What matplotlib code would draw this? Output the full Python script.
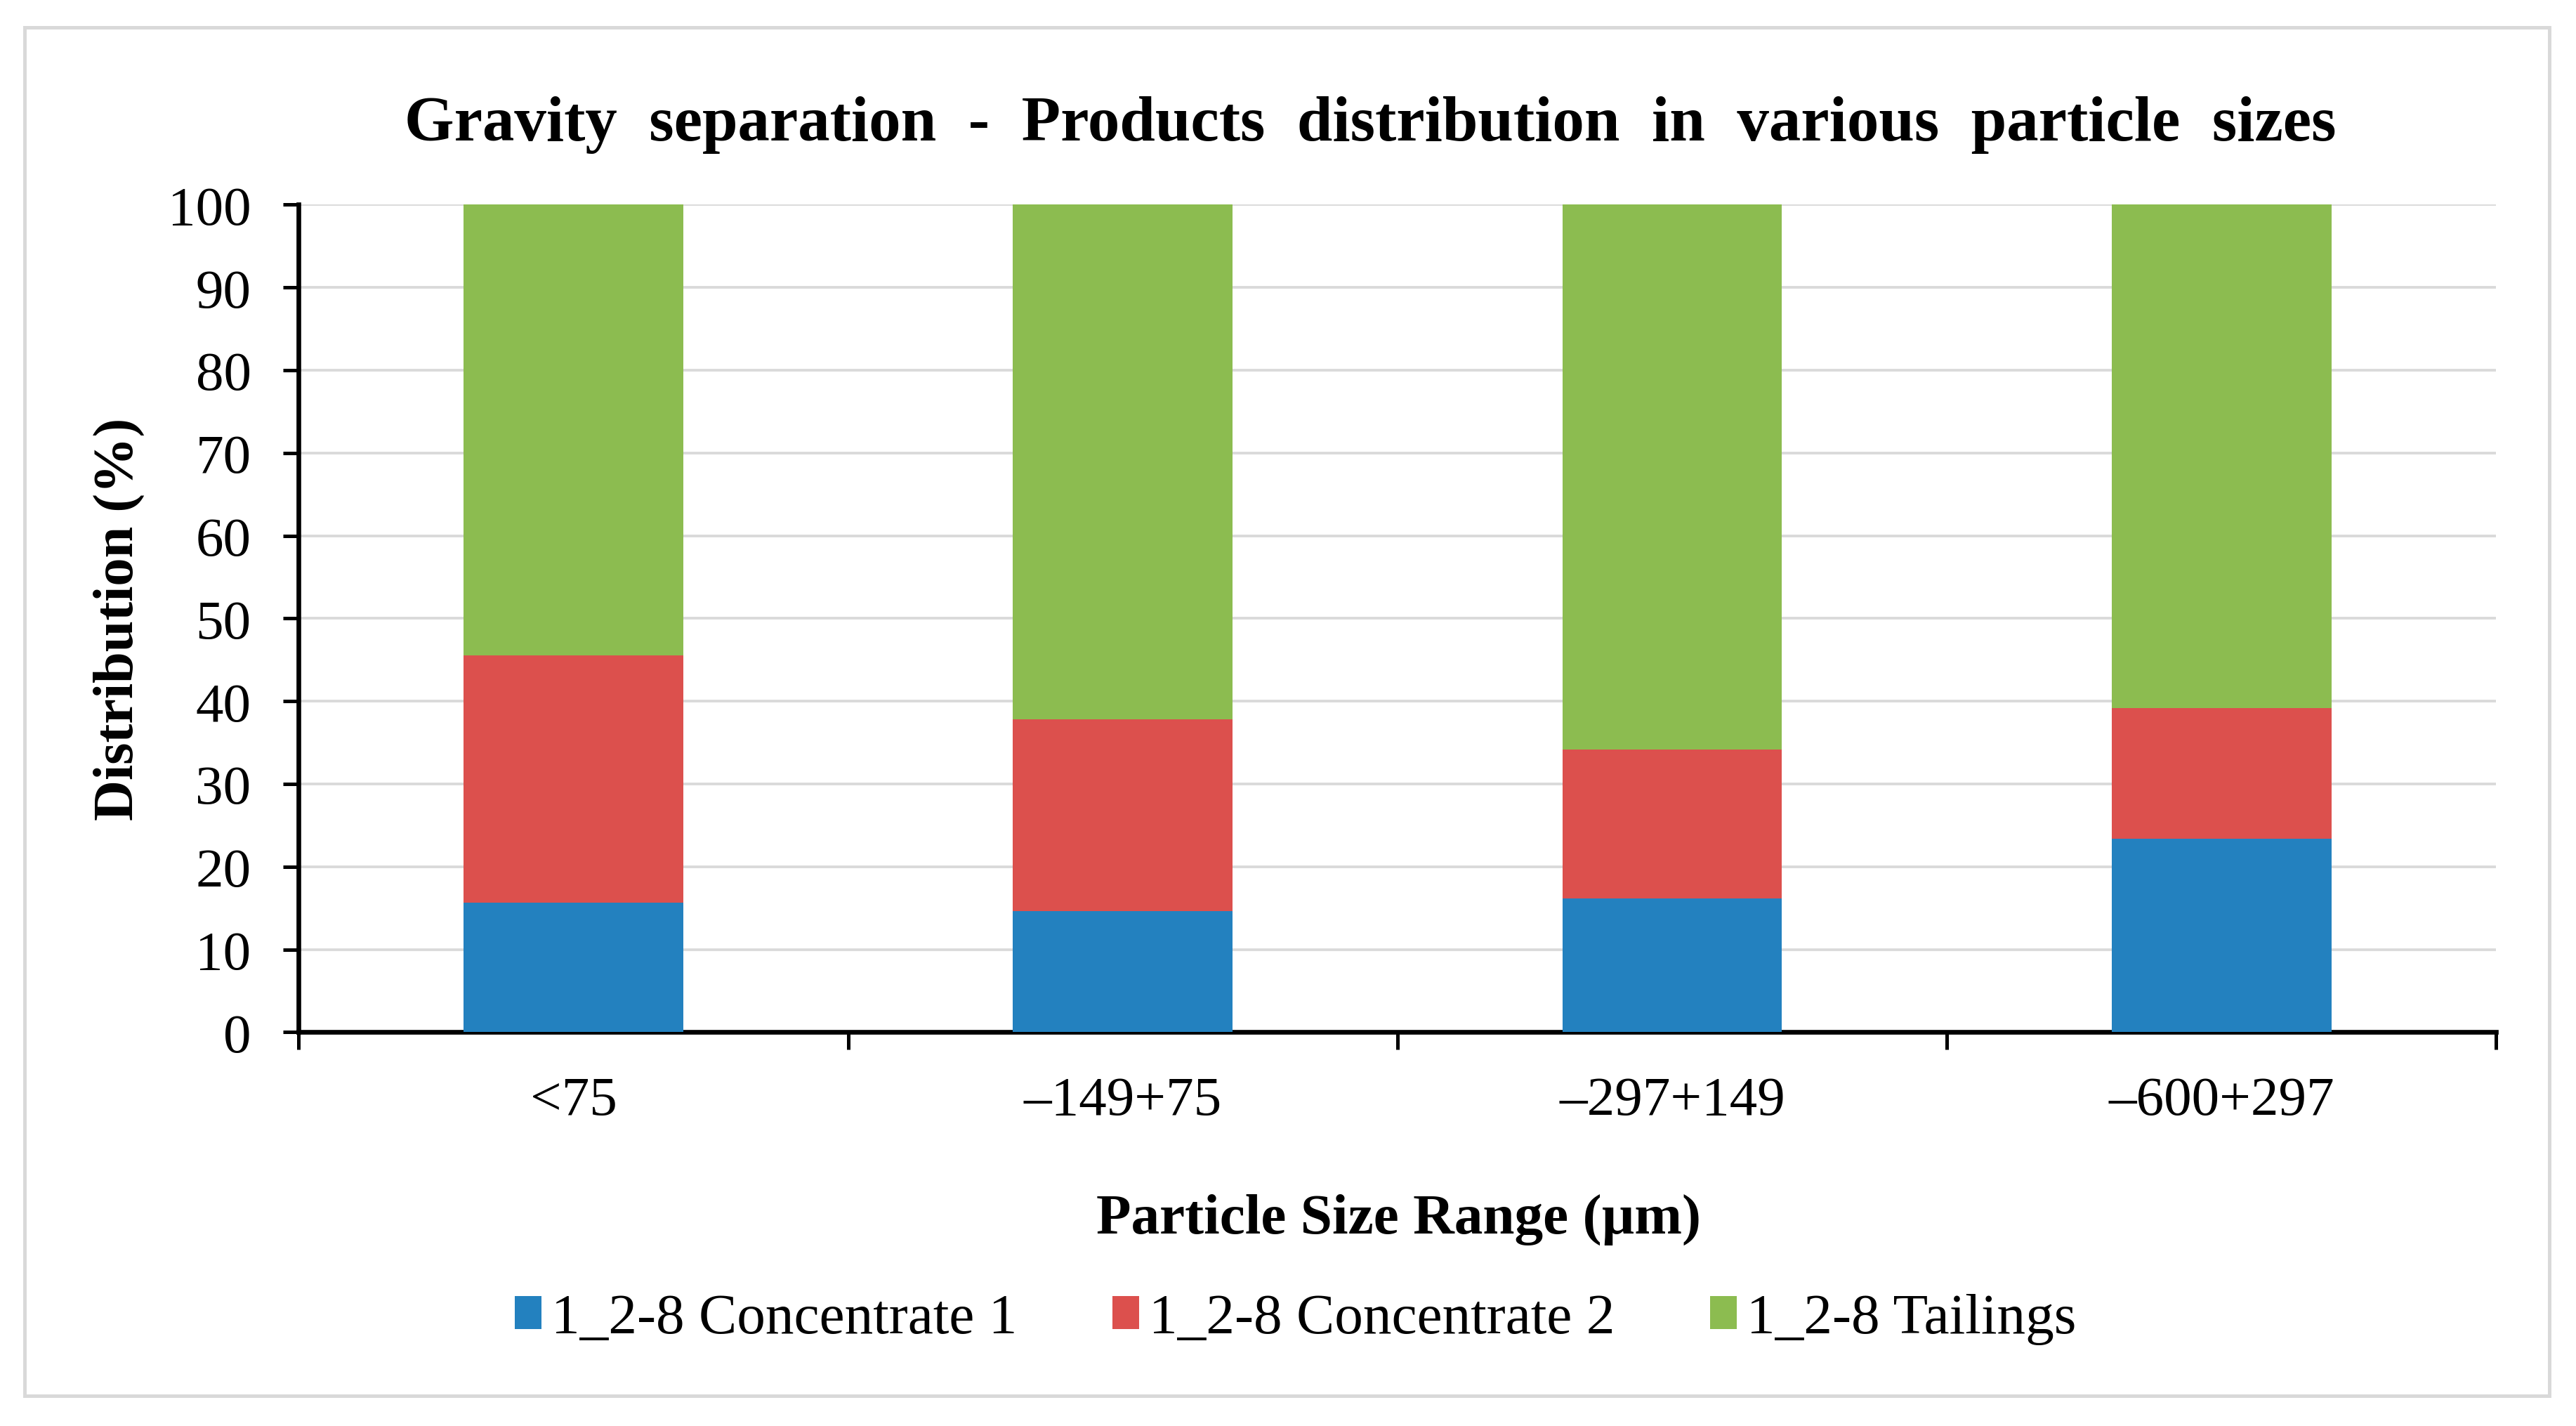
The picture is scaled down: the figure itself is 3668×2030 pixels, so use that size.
import matplotlib
matplotlib.use("Agg")
import matplotlib.pyplot as plt
import numpy as np
from matplotlib.patches import Rectangle

# values (percent)
size_ranges = ["<75", "\u2013149+75", "\u2013297+149", "\u2013600+297"]
concentrate_1 = [15.7, 14.6, 16.2, 23.4]
concentrate_2 = [29.8, 23.2, 18.0, 15.8]
tailings = [54.5, 62.2, 65.8, 60.8]
series_names = ["1_2-8 Concentrate 1", "1_2-8 Concentrate 2", "1_2-8 Tailings"]
series_colors = ["#2381BF", "#DC504D", "#8CBC50"]

plt.rcParams["font.family"] = ["Liberation Serif", "DejaVu Serif"]

fig = plt.figure(figsize=(3668 / 300, 2031 / 300), dpi=300)
ax = fig.add_axes([0.116, 0.276, 0.853, 0.580])

x = np.arange(len(size_ranges))
bottom = np.zeros(len(size_ranges))
for name, vals, col in zip(series_names, [concentrate_1, concentrate_2, tailings], series_colors):
    ax.bar(x, vals, width=0.4, bottom=bottom, color=col, label=name, zorder=3)
    bottom += np.array(vals)

ax.set_xlim(-0.5, len(size_ranges) - 0.5)
ax.set_ylim(0, 100)
ax.set_yticks(np.arange(0, 101, 10))
ax.yaxis.grid(True, color="#d9d9d9", linewidth=0.9, zorder=0)
ax.set_axisbelow(True)

# major ticks at category boundaries, labels on minor ticks at centres
ax.set_xticks(np.arange(-0.5, len(size_ranges), 1.0))
ax.set_xticklabels([])
ax.set_xticks(x, minor=True)
ax.set_xticklabels(size_ranges, minor=True)
ax.tick_params(axis="x", which="minor", length=0, pad=15, labelsize=19)
ax.tick_params(axis="x", which="major", length=6, width=1.2, direction="out")
ax.tick_params(axis="y", length=5.3, width=1.2, labelsize=19, pad=11)

for side in ["top", "right"]:
    ax.spines[side].set_visible(False)
for side in ["left", "bottom"]:
    ax.spines[side].set_linewidth(1.6)
    ax.spines[side].set_color("black")

ax.set_ylabel("Distribution (%)", fontsize=19.3, fontweight="bold")
ax.yaxis.set_label_coords(-0.070, 0.5)

fig.text(0.532, 0.9125, "Gravity  separation  -  Products  distribution  in  various  particle  sizes",
         ha="center", va="center", fontsize=21.8, fontweight="bold")
fig.text(0.543, 0.145, "Particle Size Range (\u00b5m)", ha="center", va="center",
         fontsize=19.5, fontweight="bold")

fig.legend(loc="center", bbox_to_anchor=(0.503, 0.075), ncol=3, frameon=False,
           fontsize=19.5, handlelength=0.46, handleheight=0.52, handletextpad=0.18,
           columnspacing=1.67)

# light outer border around the chart
fig.patches.append(Rectangle((35 / 3668, 1 - 1988 / 2031), (3630 - 35) / 3668, (1988 - 40) / 2031,
                             transform=fig.transFigure, fill=False, edgecolor="#d9d9d9",
                             linewidth=1.2))

fig.savefig("out.png", dpi=300, facecolor="white")
